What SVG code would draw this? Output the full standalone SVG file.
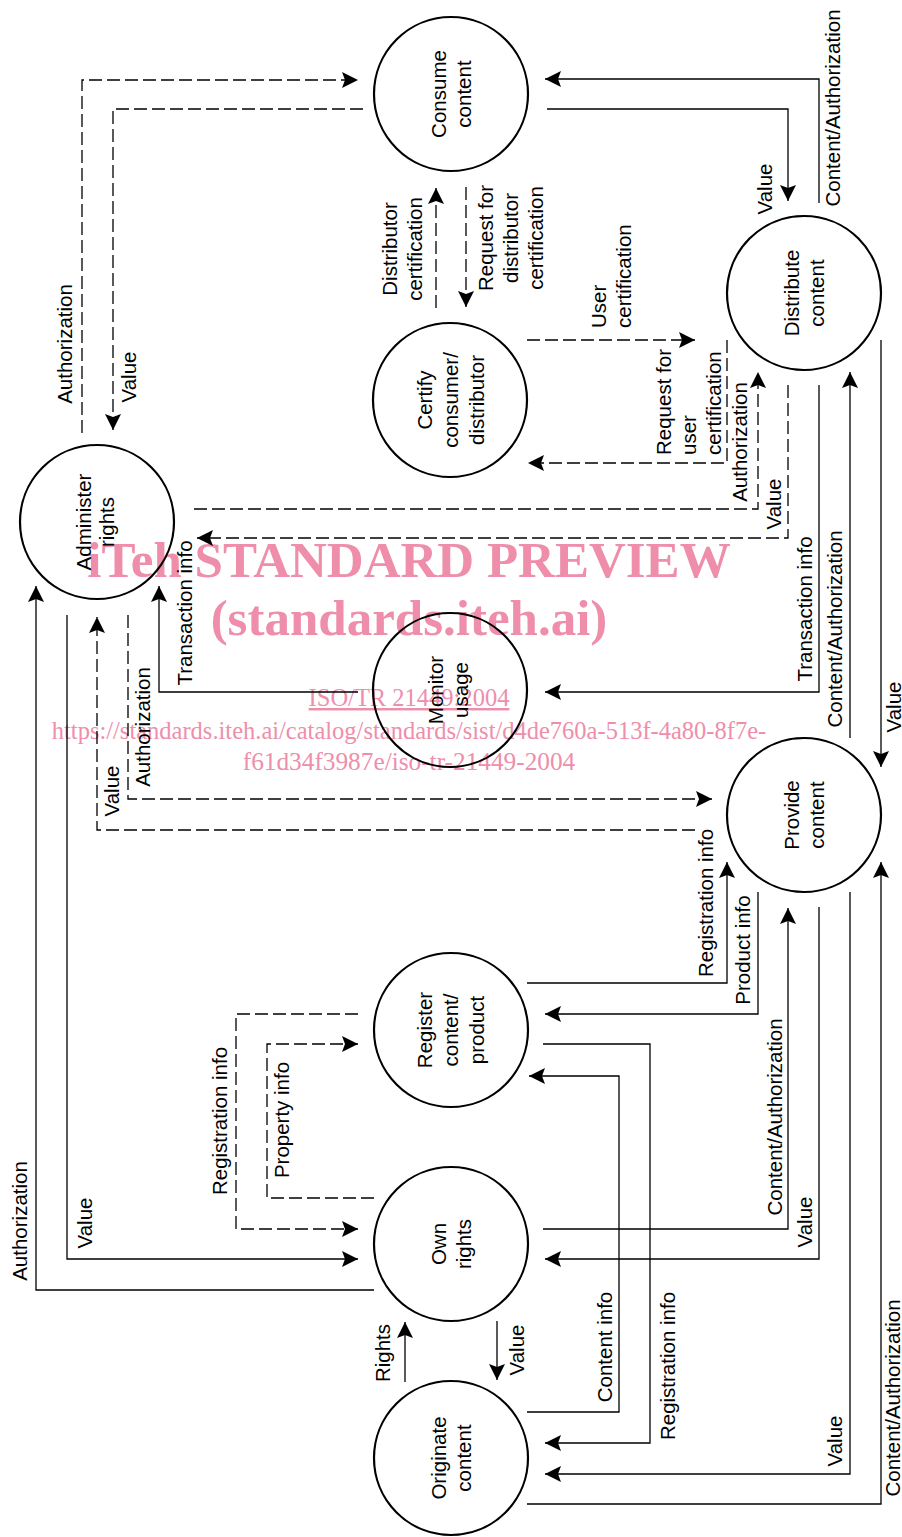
<svg xmlns="http://www.w3.org/2000/svg" width="902" height="1537" viewBox="0 0 902 1537">
<style>
.bg{fill:#fff}
.wm{fill:#ee8eab;font-family:"Liberation Serif","Times New Roman",serif}
.wmb{font-weight:bold;font-size:51px;text-anchor:middle}
.wms{font-size:24.5px;text-anchor:middle}
.wmu{font-size:25.3px;text-anchor:middle}
.node circle{fill:none;stroke:#000;stroke-width:2.2}
.node text,.lbl text{font-family:"Liberation Sans",Arial,sans-serif;font-size:20.5px;fill:#000}
.node text{text-anchor:middle}
.lbl text{text-anchor:middle}
.lbl text.st{text-anchor:start}
.c path{fill:none;stroke:#000;stroke-width:1.3;marker-end:url(#ah)}
.c path.d{stroke-dasharray:13 5}
</style>
<defs>
<marker id="ah" markerWidth="16" markerHeight="16" refX="16" refY="8" orient="auto" markerUnits="userSpaceOnUse"><path d="M0,0 L16,8 L0,16 L3,8 z" fill="#000"/></marker>
</defs>
<rect class="bg" x="0" y="0" width="902" height="1537"/>
<g id="watermark" class="wm">
<text class="wmb" x="409" y="577">iTeh STANDARD PREVIEW</text>
<text class="wmb" x="409" y="635">(standards.iteh.ai)</text>
<text class="wms" x="409" y="706" text-decoration="underline">ISO/TR 21449:2004</text>
<text class="wms" x="409" y="739">https://standards.iteh.ai/catalog/standards/sist/d4de760a-513f-4a80-8f7e-</text>
<text class="wmu" x="409" y="770">f61d34f3987e/iso-tr-21449-2004</text>
</g>
<g id="connectors" class="c">
<path class="d" d="M82,433 V80 H358"/>
<path class="d" d="M363,109 H113 V430"/>
<path d="M819,203 V79 H545"/>
<path d="M547,109 H788 V201"/>
<path class="d" d="M436,308 V188"/>
<path class="d" d="M466,187 V307"/>
<path class="d" d="M527,340 H695"/>
<path class="d" d="M727,340 V463 H528"/>
<path class="d" d="M194,509 H758 V372"/>
<path class="d" d="M788,385 V538 H197"/>
<path d="M819,385 V692 H545"/>
<path d="M850,738 V372"/>
<path d="M881,340 V767"/>
<path d="M358,692 H159 V586"/>
<path class="d" d="M128,615 V799 H712"/>
<path class="d" d="M695,830 H97 V617"/>
<path d="M374,1290 H36 V586"/>
<path d="M67,615 V1259 H358"/>
<path class="d" d="M358,1014 H236 V1229 H358"/>
<path class="d" d="M374,1198 H267 V1044 H358"/>
<path d="M527,983 H727 V862"/>
<path d="M758,892 V1014 H545"/>
<path d="M543,1229 H788 V908"/>
<path d="M819,907 V1259 H545"/>
<path d="M850,892 V1474 H545"/>
<path d="M527,1504 H881 V862"/>
<path d="M527,1412 H619 V1076 H529"/>
<path d="M543,1044 H650 V1443 H545"/>
<path d="M405,1382 V1322"/>
<path d="M497,1321 V1380"/>
</g>
<g id="labels" class="lbl">
<text transform="translate(72,344) rotate(-90)">Authorization</text>
<text transform="translate(136,377) rotate(-90)">Value</text>
<text transform="translate(840,108) rotate(-90)">Content/Authorization</text>
<text transform="translate(772,189) rotate(-90)">Value</text>
<text transform="translate(397,249) rotate(-90)">Distributor</text>
<text transform="translate(422,249) rotate(-90)">certification</text>
<text transform="translate(493,238) rotate(-90)">Request for</text>
<text transform="translate(518,238) rotate(-90)">distributor</text>
<text transform="translate(543,238) rotate(-90)">certification</text>
<text class="st" transform="translate(606,328) rotate(-90)">User</text>
<text class="st" transform="translate(631,328) rotate(-90)">certification</text>
<text class="st" transform="translate(671,455) rotate(-90)">Request for</text>
<text class="st" transform="translate(696,455) rotate(-90)">user</text>
<text class="st" transform="translate(721,455) rotate(-90)">certification</text>
<text transform="translate(747,442) rotate(-90)">Authorization</text>
<text transform="translate(781,504) rotate(-90)">Value</text>
<text transform="translate(812,609) rotate(-90)">Transaction info</text>
<text transform="translate(842,629) rotate(-90)">Content/Authorization</text>
<text transform="translate(901,707) rotate(-90)">Value</text>
<text transform="translate(192,613) rotate(-90)">Transaction info</text>
<text transform="translate(150,727) rotate(-90)">Authorization</text>
<text transform="translate(119,791) rotate(-90)">Value</text>
<text transform="translate(27,1221) rotate(-90)">Authorization</text>
<text transform="translate(92,1223) rotate(-90)">Value</text>
<text transform="translate(227,1121) rotate(-90)">Registration info</text>
<text transform="translate(289,1120) rotate(-90)">Property info</text>
<text transform="translate(713,903) rotate(-90)">Registration info</text>
<text transform="translate(750,950) rotate(-90)">Product info</text>
<text transform="translate(782,1117) rotate(-90)">Content/Authorization</text>
<text transform="translate(812,1222) rotate(-90)">Value</text>
<text transform="translate(842,1441) rotate(-90)">Value</text>
<text transform="translate(900,1398) rotate(-90)">Content/Authorization</text>
<text transform="translate(612,1347) rotate(-90)">Content info</text>
<text transform="translate(675,1366) rotate(-90)">Registration info</text>
<text transform="translate(390,1353) rotate(-90)">Rights</text>
<text transform="translate(524,1350) rotate(-90)">Value</text>
</g>
<g id="consume" class="node"><circle cx="451" cy="94" r="77"/><text transform="translate(451,94) rotate(-90)"><tspan x="0" y="-5">Consume</tspan><tspan x="0" y="20">content</tspan></text></g>
<g id="certify" class="node"><circle cx="450" cy="400" r="77"/><text transform="translate(450,400) rotate(-90)"><tspan x="0" y="-18">Certify</tspan><tspan x="0" y="8">consumer/</tspan><tspan x="0" y="34">distributor</tspan></text></g>
<g id="distribute" class="node"><circle cx="804" cy="293" r="77"/><text transform="translate(804,293) rotate(-90)"><tspan x="0" y="-5">Distribute</tspan><tspan x="0" y="20">content</tspan></text></g>
<g id="administer" class="node"><circle cx="97" cy="522" r="77"/><text transform="translate(97,522) rotate(-90)"><tspan x="0" y="-6">Administer</tspan><tspan x="0" y="17">rights</tspan></text></g>
<g id="monitor" class="node"><circle cx="450" cy="690" r="77"/><text transform="translate(450,690) rotate(-90)"><tspan x="0" y="-7">Monitor</tspan><tspan x="0" y="18">usage</tspan></text></g>
<g id="provide" class="node"><circle cx="804" cy="815" r="77"/><text transform="translate(804,815) rotate(-90)"><tspan x="0" y="-5">Provide</tspan><tspan x="0" y="20">content</tspan></text></g>
<g id="register" class="node"><circle cx="451" cy="1030" r="77"/><text transform="translate(451,1030) rotate(-90)"><tspan x="0" y="-19">Register</tspan><tspan x="0" y="7">content/</tspan><tspan x="0" y="33">product</tspan></text></g>
<g id="own" class="node"><circle cx="451" cy="1244" r="77"/><text transform="translate(451,1244) rotate(-90)"><tspan x="0" y="-5">Own</tspan><tspan x="0" y="20">rights</tspan></text></g>
<g id="originate" class="node"><circle cx="451" cy="1458" r="77"/><text transform="translate(451,1458) rotate(-90)"><tspan x="0" y="-5">Originate</tspan><tspan x="0" y="20">content</tspan></text></g>
</svg>
